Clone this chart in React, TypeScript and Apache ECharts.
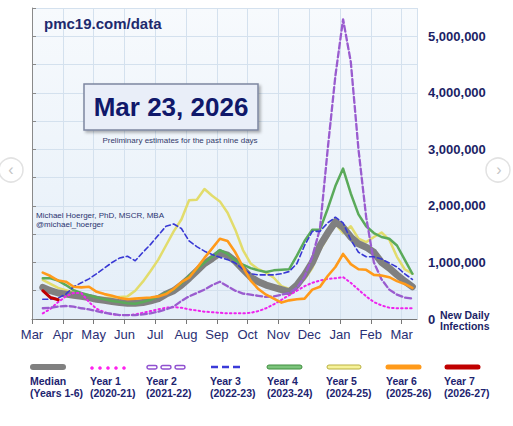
import React, { useEffect, useRef } from "react";
import * as echarts from "echarts";

// ---------- data ----------
const monthLabels = ["Mar", "Apr", "May", "Jun", "Jul", "Aug", "Sep", "Oct", "Nov", "Dec", "Jan", "Feb", "Mar"];
// weekly sample positions, in months since Mar 1
const weekMonths = Array.from({ length: 49 }, (_, i) => 0.35 + 0.25 * i);

// values in millions of new daily infections
const median = [0.56, 0.50, 0.46, 0.44, 0.42, 0.40, 0.38, 0.35, 0.33, 0.31, 0.29, 0.28, 0.28, 0.29, 0.32, 0.36, 0.44, 0.50, 0.60, 0.72, 0.85, 0.98, 1.07, 1.17, 1.13, 1.02, 0.88, 0.74, 0.66, 0.60, 0.56, 0.52, 0.48, 0.60, 0.78, 1.00, 1.30, 1.52, 1.72, 1.62, 1.45, 1.33, 1.27, 1.18, 1.00, 0.90, 0.78, 0.67, 0.57];
const year1 = [0.10, 0.18, 0.30, 0.40, 0.46, 0.46, 0.30, 0.18, 0.12, 0.08, 0.07, 0.07, 0.08, 0.11, 0.14, 0.17, 0.20, 0.21, 0.20, 0.17, 0.15, 0.13, 0.12, 0.11, 0.10, 0.10, 0.10, 0.11, 0.14, 0.19, 0.26, 0.34, 0.42, 0.50, 0.58, 0.64, 0.68, 0.71, 0.72, 0.74, 0.64, 0.52, 0.40, 0.30, 0.24, 0.20, 0.19, 0.19, 0.19];
const year2 = [0.19, 0.20, 0.22, 0.23, 0.22, 0.19, 0.17, 0.14, 0.11, 0.09, 0.07, 0.07, 0.07, 0.08, 0.10, 0.13, 0.17, 0.22, 0.32, 0.40, 0.46, 0.52, 0.60, 0.66, 0.58, 0.50, 0.45, 0.43, 0.41, 0.39, 0.40, 0.43, 0.46, 0.55, 0.75, 1.10, 1.60, 3.00, 4.30, 5.30, 4.55, 3.00, 1.80, 1.00, 0.70, 0.52, 0.43, 0.38, 0.36];
const year3 = [0.35, 0.35, 0.37, 0.44, 0.57, 0.64, 0.71, 0.80, 0.90, 1.00, 1.08, 1.11, 1.03, 1.18, 1.32, 1.48, 1.64, 1.68, 1.60, 1.38, 1.28, 1.20, 1.14, 1.09, 1.05, 0.99, 0.88, 0.80, 0.78, 0.78, 0.78, 0.80, 0.84, 0.98, 1.30, 1.55, 1.55, 1.70, 1.80, 1.70, 1.40, 1.18, 1.10, 1.10, 1.06, 0.99, 0.92, 0.80, 0.70];
const year4 = [0.72, 0.72, 0.68, 0.60, 0.51, 0.46, 0.42, 0.38, 0.35, 0.32, 0.30, 0.28, 0.27, 0.30, 0.34, 0.40, 0.46, 0.52, 0.63, 0.76, 0.88, 1.00, 1.10, 1.22, 1.15, 1.04, 0.96, 0.90, 0.86, 0.83, 0.86, 0.87, 0.88, 1.12, 1.38, 1.58, 1.58, 1.95, 2.35, 2.66, 2.22, 1.85, 1.64, 1.52, 1.45, 1.42, 1.30, 1.05, 0.80];
const year5 = [0.69, 0.62, 0.55, 0.51, 0.47, 0.43, 0.40, 0.37, 0.37, 0.38, 0.39, 0.40, 0.50, 0.66, 0.85, 1.05, 1.30, 1.55, 1.76, 2.10, 2.11, 2.30, 2.18, 2.08, 1.88, 1.58, 1.22, 0.98, 0.88, 0.82, 0.73, 0.58, 0.53, 0.62, 0.70, 0.90, 1.22, 1.45, 1.68, 1.52, 1.64, 1.42, 1.36, 1.45, 1.53, 1.40, 1.10, 0.88, 0.80];
const year6 = [0.82, 0.76, 0.68, 0.66, 0.57, 0.56, 0.57, 0.48, 0.44, 0.41, 0.37, 0.35, 0.36, 0.37, 0.38, 0.40, 0.44, 0.53, 0.65, 0.73, 0.90, 1.08, 1.25, 1.42, 1.38, 1.18, 0.92, 0.68, 0.53, 0.43, 0.36, 0.29, 0.33, 0.35, 0.36, 0.52, 0.57, 0.76, 0.92, 1.15, 0.97, 0.88, 0.87, 0.78, 0.77, 0.74, 0.67, 0.62, 0.55];
const year7 = [0.50, 0.38, 0.34];

const legendNames = ["Median", "Year 1", "Year 2", "Year 3", "Year 4", "Year 5", "Year 6", "Year 7"];
const legendSubs = ["(Years 1-6)", "(2020-21)", "(2021-22)", "(2022-23)", "(2023-24)", "(2024-25)", "(2025-26)", "(2026-27)"];

// ---------- styles / layout ----------
const FONT = "'Liberation Sans', Arial, Helvetica, sans-serif";
const NAVY = "#1d2470";
const legendX = [30, 90, 146, 210, 267, 326, 386, 444];

const toPairs = (vals: number[]) => vals.map((v, i) => [weekMonths[i], v]);

function legendSymbol(idx: number, x: number, y: number): any[] {
  switch (idx) {
    case 0:
      return [{ type: "line", shape: { x1: x + 3, y1: y, x2: x + 33, y2: y }, style: { stroke: "#808080", lineWidth: 6, lineCap: "round" } }];
    case 1:
      return [0, 1, 2, 3, 4].map((k) => ({ type: "circle", shape: { cx: x + 2 + k * 8, cy: y + 1, r: 1.8 }, style: { fill: "#ff22ee" } }));
    case 2:
      return [0, 1, 2].map((k) => ({ type: "rect", shape: { x: x + 1 + k * 14, y: y - 1.5, width: 10, height: 3.5, r: 1.7 }, style: { fill: "#ffffff", stroke: "#9050d0", lineWidth: 1.5 } }));
    case 3:
      return [{ type: "line", shape: { x1: x + 1, y1: y, x2: x + 31, y2: y }, style: { stroke: "#3a3ad8", lineWidth: 2.6, lineDash: [7, 4] } }];
    case 4:
      return [{ type: "rect", shape: { x: x, y: y - 2, width: 35, height: 4, r: 2 }, style: { fill: "#7cc47c", stroke: "#3e8e3e", lineWidth: 1 } }];
    case 5:
      return [{ type: "rect", shape: { x: x + 1, y: y - 2, width: 34, height: 4, r: 2 }, style: { fill: "#f6f29a", stroke: "#b9b040", lineWidth: 1 } }];
    case 6:
      return [{ type: "line", shape: { x1: x + 2, y1: y, x2: x + 33, y2: y }, style: { stroke: "#ff9a1a", lineWidth: 5, lineCap: "round" } }];
    default:
      return [{ type: "line", shape: { x1: x + 3, y1: y, x2: x + 34, y2: y }, style: { stroke: "#c00000", lineWidth: 5, lineCap: "round" } }];
  }
}

function buildLegend(): any[] {
  const els: any[] = [];
  legendNames.forEach((name, i) => {
    const x = legendX[i];
    els.push(...legendSymbol(i, x, 367));
    els.push({
      type: "text",
      x,
      y: 381,
      style: { text: name, font: `bold 10.5px ${FONT}`, fill: NAVY, textAlign: "left", textVerticalAlign: "middle", align: "left", verticalAlign: "middle" },
    });
    els.push({
      type: "text",
      x,
      y: 393,
      style: { text: legendSubs[i], font: `bold 10.5px ${FONT}`, fill: NAVY, textAlign: "left", textVerticalAlign: "middle", align: "left", verticalAlign: "middle" },
    });
  });
  return els;
}

function lineSeries(name: string, data: number[], color: string, width: number, type: any, z: number) {
  return {
    name,
    type: "line",
    data: toPairs(data),
    showSymbol: false,
    symbol: "none",
    z,
    lineStyle: { color, width, type, cap: "round", join: "round" },
    emphasis: { disabled: true },
  };
}

export default function App() {
  const ref = useRef<HTMLDivElement>(null);

  useEffect(() => {
    document.body.style.margin = "0";
    if (!ref.current) return;
    const chart = echarts.init(ref.current, undefined, { renderer: "svg" });

    const isInt = (v: number) => Math.abs(v - Math.round(v)) < 1e-6;

    const graphicEls: any[] = [
      {
        type: "text",
        x: 44,
        y: 23,
        style: { text: "pmc19.com/data", font: `bold 15px ${FONT}`, fill: "#1e2a6e", textAlign: "left", textVerticalAlign: "middle", align: "left", verticalAlign: "middle" },
      },
      {
        type: "rect",
        shape: { x: 84, y: 84, width: 174, height: 46 },
        style: { fill: "#e9eef8", stroke: "#7e86a0", lineWidth: 1.5, shadowBlur: 3, shadowColor: "rgba(0,0,0,0.3)", shadowOffsetX: 2, shadowOffsetY: 2 },
      },
      {
        type: "text",
        x: 171,
        y: 107,
        style: { text: "Mar 23, 2026", font: `bold 26px ${FONT}`, fill: "#10186a", textAlign: "center", textVerticalAlign: "middle", align: "center", verticalAlign: "middle" },
      },
      {
        type: "text",
        x: 180,
        y: 140,
        style: { text: "Preliminary estimates for the past nine days", font: `8px ${FONT}`, fill: "#333a6a", textAlign: "center", textVerticalAlign: "middle", align: "center", verticalAlign: "middle" },
      },
      {
        type: "text",
        x: 36,
        y: 215,
        style: { text: "Michael Hoerger, PhD, MSCR, MBA", font: `8px ${FONT}`, fill: "#2a3470", textAlign: "left", textVerticalAlign: "middle", align: "left", verticalAlign: "middle" },
      },
      {
        type: "text",
        x: 36,
        y: 224,
        style: { text: "@michael_hoerger", font: `8px ${FONT}`, fill: "#2a3470", textAlign: "left", textVerticalAlign: "middle", align: "left", verticalAlign: "middle" },
      },
      {
        type: "text",
        x: 440,
        y: 320,
        style: { text: "New Daily\nInfections", font: `bold 10.5px ${FONT}`, lineHeight: 11, fill: "#1c1f66", textAlign: "left", textVerticalAlign: "middle", align: "left", verticalAlign: "middle" },
      },
      { type: "circle", shape: { cx: 11, cy: 170, r: 12 }, style: { fill: "rgba(255,255,255,0.6)", stroke: "#e2e2e2", lineWidth: 1.5 } },
      { type: "text", x: 11, y: 169, style: { text: "‹", font: `16px ${FONT}`, fill: "#c4c4c4", textAlign: "center", textVerticalAlign: "middle", align: "center", verticalAlign: "middle" } },
      { type: "circle", shape: { cx: 498, cy: 170, r: 12 }, style: { fill: "rgba(255,255,255,0.6)", stroke: "#e2e2e2", lineWidth: 1.5 } },
      { type: "text", x: 499, y: 169, style: { text: "›", font: `16px ${FONT}`, fill: "#c4c4c4", textAlign: "center", textVerticalAlign: "middle", align: "center", verticalAlign: "middle" } },
      ...buildLegend(),
    ].map((el) => ({ ...el, z: 100 }));

    const option: any = {
      animation: false,
      backgroundColor: "#ffffff",
      textStyle: { fontFamily: FONT },
      grid: {
        left: 32,
        right: 96,
        top: 8,
        bottom: 107,
        show: true,
        borderWidth: 0,
        backgroundColor: new echarts.graphic.LinearGradient(0, 0, 0, 1, [
          { offset: 0, color: "#f7fafd" },
          { offset: 1, color: "#e4eef8" },
        ]),
      },
      xAxis: {
        type: "value",
        min: 0,
        max: 12.5,
        interval: 1,
        axisLine: { show: true, onZero: false, lineStyle: { color: "#777777", width: 1 } },
        axisTick: { show: true, length: 5, lineStyle: { color: "#777777" } },
        axisLabel: {
          formatter: (v: number) => (isInt(v) ? monthLabels[Math.round(v)] ?? "" : ""),
          color: "#2a2f74",
          fontSize: 13,
          fontFamily: FONT,
          margin: 9,
          showMaxLabel: false,
        },
        splitLine: { show: true, lineStyle: { color: "#d4e1ee", width: 1 } },
      },
      yAxis: {
        type: "value",
        position: "right",
        min: 0,
        max: 5.5,
        interval: 0.5,
        axisLine: { show: true, lineStyle: { color: "#8a8a8a", width: 1 } },
        axisTick: { show: true, length: 4, lineStyle: { color: "#8a8a8a" } },
        axisLabel: {
          formatter: (v: number) => (isInt(v) ? (Math.round(v) * 1000000).toLocaleString("en-US") : ""),
          color: "#1c1f66",
          fontSize: 13,
          fontWeight: "bold",
          fontFamily: FONT,
          margin: 11,
        },
        splitLine: { show: true, lineStyle: { color: "#d4e1ee", width: 1 } },
      },
      series: [
        lineSeries("Year 5", year5, "#e2dc6c", 2.5, "solid", 2),
        lineSeries("Median", median, "#808080", 7, "solid", 3),
        lineSeries("Year 4", year4, "#5aaa5a", 2.5, "solid", 4),
        lineSeries("Year 1", year1, "#ee22ee", 2, [1.5, 3], 5),
        lineSeries("Year 2", year2, "#9a5ccf", 2.3, [6, 3], 6),
        lineSeries("Year 3", year3, "#3838d4", 1.6, [5, 3], 7),
        lineSeries("Year 6", year6, "#ff9a1a", 2.6, "solid", 8),
        lineSeries("Year 7", year7, "#c00000", 3, "solid", 9),
      ],
      graphic: graphicEls,
    };

    chart.setOption(option);
    return () => chart.dispose();
  }, []);

  return <div ref={ref} style={{ width: 513, height: 426 }} />;
}
